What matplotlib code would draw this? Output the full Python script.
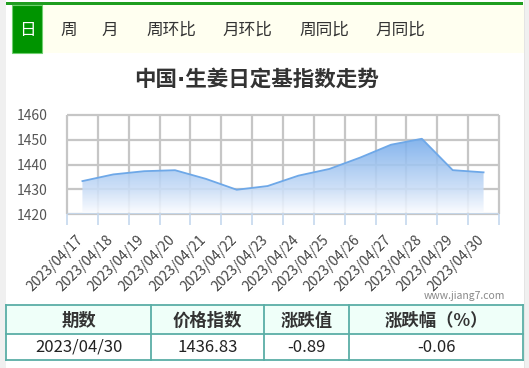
import numpy as np
import matplotlib.pyplot as plt
import matplotlib.transforms as mtransforms
from matplotlib.patches import Rectangle
from matplotlib.colors import LinearSegmentedColormap

plt.rcParams['font.family'] = ['Noto Sans CJK SC', 'DejaVu Sans']

# data
dates = ["2023/04/17", "2023/04/18", "2023/04/19", "2023/04/20", "2023/04/21",
         "2023/04/22", "2023/04/23", "2023/04/24", "2023/04/25", "2023/04/26",
         "2023/04/27", "2023/04/28", "2023/04/29", "2023/04/30"]
index_vals = [1433.3, 1436.0, 1437.3, 1437.7, 1434.2, 1429.8, 1431.3,
              1435.5, 1438.2, 1442.8, 1448.0, 1450.4, 1437.72, 1436.83]
yticks = [1420, 1430, 1440, 1450, 1460]

tabs = ["日", "周", "月", "周环比", "月环比", "周同比", "月同比"]
tab_x = [27, 69, 110, 171, 247, 324, 400]
title = "中国·生姜日定基指数走势"

table_head = ["期数", "价格指数", "涨跌值", "涨跌幅（%）"]
table_row = ["2023/04/30", "1436.83", "-0.89", "-0.06"]
col_edges = [6, 151, 264, 349, 523]

W, H = 529, 368
fig = plt.figure(figsize=(W / 100, H / 100), dpi=100)

# background layer in pixel coordinates
bg = fig.add_axes([0, 0, 1, 1])
bg.set_xlim(0, W)
bg.set_ylim(H, 0)
bg.axis("off")
bg.add_patch(Rectangle((0, 0), 6, H, color="#f0f0f0", lw=0))
bg.add_patch(Rectangle((524, 0), 5, H, color="#f0f0f0", lw=0))
bg.add_patch(Rectangle((524, 0), 1, H, color="#e4e4e4", lw=0))
bg.add_patch(Rectangle((6, 2.3), 517, 2.4, color="#1f9e1f", lw=0))
bg.add_patch(Rectangle((12, 4.7), 512, 48.6, color="#fffff0", lw=0))
bg.add_patch(Rectangle((12, 4.7), 30, 48.6, facecolor="#009400",
                       edgecolor="#6fcf6f", lw=0.8))
for i, (t, x) in enumerate(zip(tabs, tab_x)):
    bg.text(x, 30, t, ha="center", va="center", fontsize=12,
            color="white" if i == 0 else "#333333")

# narrow middle dot comes from DejaVu, the rest from Noto CJK
bg.text(256, 79, title, ha="center", va="center", fontsize=15.5,
        fontweight="bold", color="#333333",
        family=["DejaVu Sans", "Noto Sans CJK SC"])

bg.text(505, 296, "www.jiang7.com", ha="right", va="center", fontsize=7.5,
        color="#888888")

# table
teal = "#5aaea6"
bg.add_patch(Rectangle((6, 305), 517, 29, facecolor="#effff9", lw=0))
for j in range(4):
    x0, x1 = col_edges[j], col_edges[j + 1]
    bg.text((x0 + x1) / 2, 321, table_head[j], ha="center", va="center",
            fontsize=12.5, fontweight="bold", color="#333333")
    bg.text((x0 + x1) / 2, 347.5, table_row[j], ha="center", va="center",
            fontsize=12, color="#222222")
for x in col_edges:
    bg.plot([x, x], [305, 360], color=teal, lw=1.3)
for y in [305, 334, 360]:
    bg.plot([6, 523], [y, y], color=teal, lw=1.3)

# chart
ax = fig.add_axes([67 / W, 1 - 214 / H, 432 / W, 99 / H])
ax.patch.set_alpha(0)
xpos = np.arange(len(dates))
bounds = np.arange(-0.5, len(dates))

# grid drawn by hand so it sits under the area
ax.hlines(yticks, -0.5, len(dates) - 0.5, color="#c6c6c6", lw=1.6, zorder=1,
          clip_on=False)
ax.vlines(bounds, 1420, 1460, color="#c6c6c6", lw=1.6, zorder=1, clip_on=False)

fill = ax.fill_between(xpos, index_vals, 1420.5, color="none", lw=0)
grad = np.linspace(1, 0, 256).reshape(-1, 1)
cmap = LinearSegmentedColormap.from_list(
    "g", [(0, "#fafcff"), (0.3, "#cbdef7"), (1, "#72a9ea")])
img = ax.imshow(grad, cmap=cmap, aspect="auto", vmin=0, vmax=1,
                extent=[-0.5, len(dates) - 0.5, 1420.5, 1451], zorder=2,
                alpha=0.88)
img.set_clip_path(fill.get_paths()[0], transform=ax.transData)
ax.plot(xpos, index_vals, color="#6ea8e8", lw=1.3, zorder=3)
ax.hlines(1420, -0.5, len(dates) - 0.5, color="#c5d8ee", lw=2, zorder=4)

ax.set_xlim(-0.5, len(dates) - 0.5)
ax.set_ylim(1420, 1460)
ax.set_yticks(yticks)
ax.set_xticks(xpos)
ax.set_xticklabels(dates, rotation=45, ha="right", fontsize=10, color="#444444")
ax.set_xticks(bounds, minor=True)
ax.tick_params(axis="x", which="major", length=0, pad=10)
ax.tick_params(axis="x", which="minor", length=8, width=1.2, color="#c5d8ee")
ax.tick_params(axis="y", length=0, pad=14, labelsize=10, labelcolor="#555555")
for s in ax.spines.values():
    s.set_visible(False)

# nudge the slanted date labels down and right a little
shift = mtransforms.ScaledTranslation(3 / 100, -5 / 100, fig.dpi_scale_trans)
for lbl in ax.get_xticklabels():
    lbl.set_transform(lbl.get_transform() + shift)

fig.savefig("out.png", dpi=100)
